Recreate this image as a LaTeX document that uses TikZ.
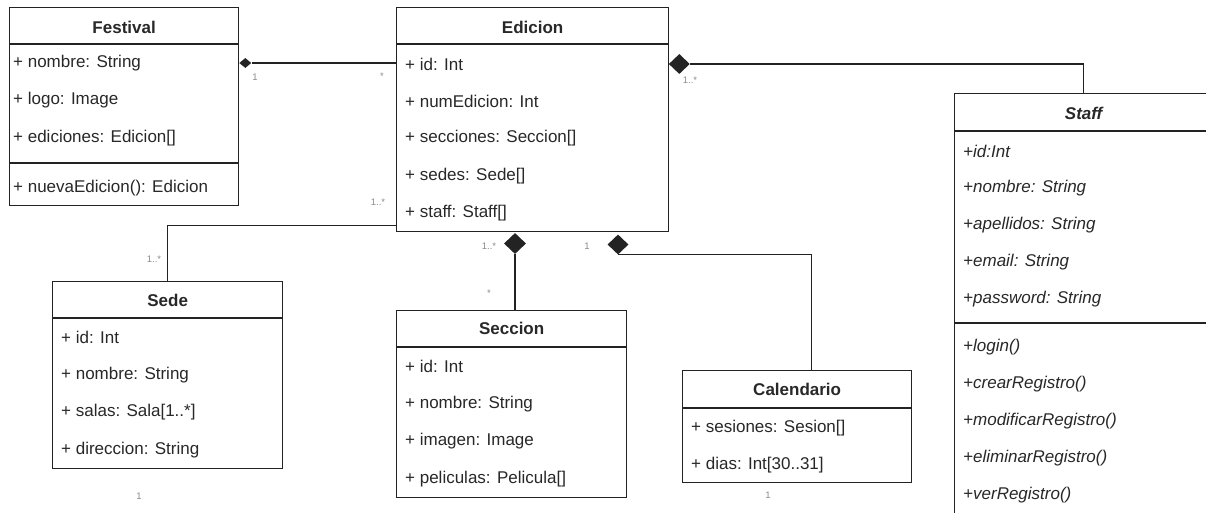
\documentclass[tikz,border=0pt]{standalone}
\usepackage{fontspec}
\setmainfont{Liberation Sans}
\usetikzlibrary{shapes.geometric,calc}
\definecolor{uml-line}{RGB}{35,35,35}
\definecolor{uml-text}{RGB}{40,40,40}
\definecolor{mult-gray}{RGB}{140,140,140}
\tikzstyle{classbox}=[draw=uml-line, line width=1.3pt, fill=white, anchor=north west, inner sep=0pt]
\tikzstyle{classname}=[font=\fontsize{17}{20}\selectfont\bfseries, text=uml-text]
\tikzstyle{member}=[font=\fontsize{17}{20}\selectfont, text=uml-text, anchor=west, inner sep=0pt]
\tikzstyle{link}=[draw=uml-line, line width=1.3pt]
\tikzstyle{mult}=[font=\fontsize{9.5}{11}\selectfont, text=mult-gray, inner sep=0pt]
\tikzstyle{compo}=[diamond, fill=uml-line, inner sep=0pt, minimum width=21pt, minimum height=20pt]

\begin{document}
\begin{tikzpicture}[x=1pt, y=-1pt]
	\useasboundingbox (0,0) rectangle (1206,513);
	\fill[white] (0,0) rectangle (1206,513);
	\clip (0,0) rectangle (1206,513);

	% class boxes
	\node[classbox, minimum width=229pt, minimum height=198pt] (festival) at (9,7) {};
	\node[classbox, minimum width=272pt, minimum height=224pt] (edicion) at (396,7) {};
	\node[classbox, minimum width=230pt, minimum height=187pt] (sede) at (52,281) {};
	\node[classbox, minimum width=230pt, minimum height=187pt] (seccion) at (396,310) {};
	\node[classbox, minimum width=229pt, minimum height=112pt] (calendario) at (682,370) {};
	\node[classbox, minimum width=258pt, minimum height=440pt] (staff) at (954,93) {};

	% header and operation separators
	\foreach \c/\h in {festival/37, edicion/37, sede/37, seccion/37, calendario/38, staff/38}
		\draw[link] ($(\c.north west)+(0,\h)$) -- ($(\c.north east)+(0,\h)$);
	\draw[link] ($(festival.north west)+(0,156)$) -- ($(festival.north east)+(0,156)$);
	\draw[link] ($(staff.north west)+(0,230)$) -- ($(staff.north east)+(0,230)$);

	% class names
	\node[classname] (festivalname) at ($(festival.north)+(0,20)$) {Festival};
	\node[classname] (edicionname) at ($(edicion.north)+(0,20)$) {Edicion};
	\node[classname] (sedename) at ($(sede.north)+(0,19)$) {Sede};
	\node[classname] (seccionname) at ($(seccion.north)+(0,18)$) {Seccion};
	\node[classname] (calendarioname) at ($(calendario.north)+(0,19)$) {Calendario};
	\node[classname, font=\fontsize{17}{20}\selectfont\bfseries\itshape] (staffname) at ($(staff.north)+(0,20)$) {Staff};

	% members
	\foreach \txt [count=\i] in {+ nombre: String, + logo: Image, + ediciones: Edicion[]}
		\node[member] (fest\i) at (13,25.5+37.5*\i) {\txt};
	\node[member] (fest4) at (13,188) {+ nuevaEdicion(): Edicion};
	\foreach \txt [count=\i] in {+ id: Int, + numEdicion: Int, + secciones: Seccion[], + sedes: Sede[], + staff: Staff[]}
		\node[member] (ed\i) at (405,26.75+37.25*\i) {\txt};
	\foreach \txt [count=\i] in {+ id: Int, + nombre: String, + salas: Sala[1..*], + direccion: String}
		\node[member] (sede\i) at (61,300.5+37.3*\i) {\txt};
	\foreach \txt [count=\i] in {+ id: Int, + nombre: String, + imagen: Image, + peliculas: Pelicula[]}
		\node[member] (sec\i) at (405,329.5+37.3*\i) {\txt};
	\foreach \txt [count=\i] in {+ sesiones: Sesion[], + dias: Int[30..31]}
		\node[member] (cal\i) at (691,391+37*\i) {\txt};
	\foreach \txt [count=\i] in {+id:Int, +nombre: String, +apellidos: String, +email: String, +password: String}
		\node[member, font=\fontsize{17}{20}\selectfont\itshape] (st\i) at (963,114+37*\i) {\txt};
	\foreach \txt [count=\i] in {+login(), +crearRegistro(), +modificarRegistro(), +eliminarRegistro(), +verRegistro()}
		\node[member, font=\fontsize{17}{20}\selectfont\itshape] (op\i) at (963,310+37*\i) {\txt};

	% compositions
	\node[compo, minimum width=12pt, minimum height=10pt] (dfest) at ($(festival.east |- fest1)+(6,0)$) {};
	\draw[link] (dfest.east) -- (edicion.west |- dfest);
	\node[mult] (mfest1) at (255,77) {1};
	\node[mult] (mfest2) at (382,76) {*};

	\coordinate (sedeexit) at ($(edicion.south west)+(0,-7)$);
	\draw[link] (sedeexit) -| (sede.north);
	\node[mult] (msede1) at (378,202) {1..*};
	\node[mult] (msede2) at (154,259) {1..*};
	\node[mult] (msede3) at (139,496) {1};

	\node[compo, minimum width=22pt, minimum height=21pt] (dsec) at (515,243.5) {};
	\draw[link] (dsec.south) -- (dsec.south |- seccion.north);
	\node[mult] (msec1) at (489,246) {1..*};
	\node[mult] (msec2) at (489,293) {*};

	\node[compo] (dcal) at (618,244.5) {};
	\coordinate (caltop) at ($(calendario.north)+(14.5,0)$);
	\draw[link] (dcal.south) -| (caltop);
	\node[mult] (mcal1) at (587,246) {1};
	\node[mult] (mcal2) at (768,495) {1};

	\node[compo] (dstaff) at ($(edicion.east |- ed1)+(10,0)$) {};
	\draw[link] (dstaff.east) -| (staff.north);
	\node[mult] (mstaff) at (690,80) {1..*};
\end{tikzpicture}
\end{document}
